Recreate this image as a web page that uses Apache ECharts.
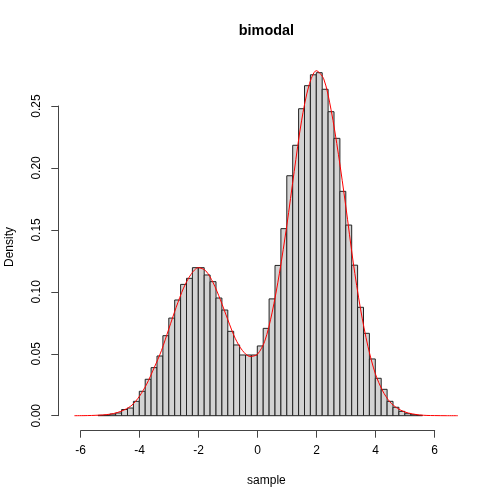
<!DOCTYPE html>
<html><head><meta charset="utf-8">
<script src="https://cdn.jsdelivr.net/npm/echarts@6/dist/echarts.min.js"></script>
<style>html,body{margin:0;padding:0;background:#fff}#c{width:504px;height:504px}</style>
</head><body><div id="c"></div>
<script>
const chartTitle = 'bimodal';
const xName = 'sample';
const yName = 'Density';
const binEdges = [-5.4,-5.2,-5.0,-4.8,-4.6,-4.4,-4.2,-4.0,-3.8,-3.6,-3.4,-3.2,-3.0,-2.8,-2.6,-2.4,-2.2,-2.0,-1.8,-1.6,-1.4,-1.2,-1.0,-0.8,-0.6,-0.4,-0.2,0.0,0.2,0.4,0.6,0.8,1.0,1.2,1.4,1.6,1.8,2.0,2.2,2.4,2.6,2.8,3.0,3.2,3.4,3.6,3.8,4.0,4.2,4.4,4.6,4.8,5.0,5.2,5.4,5.6];
const binDensity = [0.0003,0.0004,0.0013,0.0022,0.0050,0.0062,0.0116,0.0197,0.0294,0.0388,0.0482,0.0646,0.0788,0.0934,0.1060,0.1109,0.1195,0.1195,0.1136,0.1082,0.0950,0.0853,0.0681,0.0571,0.0490,0.0490,0.0490,0.0563,0.0705,0.0943,0.1213,0.1510,0.1937,0.2183,0.2478,0.2664,0.2752,0.2769,0.2635,0.2454,0.2239,0.1811,0.1539,0.1215,0.0875,0.0665,0.0458,0.0302,0.0213,0.0116,0.0068,0.0035,0.0016,0.0008,0.0003];
const curveX = [-6.2,-5.75,-5.5,-5.25,-5.0,-4.75,-4.5,-4.25,-4.0,-3.75,-3.5,-3.25,-3.0,-2.75,-2.5,-2.25,-2.0,-1.75,-1.5,-1.25,-1.0,-0.75,-0.5,-0.25,0.0,0.25,0.5,0.75,1.0,1.25,1.5,1.75,2.0,2.25,2.5,2.75,3.0,3.25,3.5,3.75,4.0,4.25,4.5,4.75,5.0,5.25,5.5,5.75,6.0,6.4,6.8];
const curveY = [0.0000,0.0001,0.0003,0.0006,0.0012,0.0025,0.0048,0.0085,0.0155,0.0255,0.0385,0.0525,0.0700,0.0875,0.1030,0.1140,0.1195,0.1170,0.1075,0.0935,0.0775,0.0625,0.0525,0.0478,0.0495,0.0600,0.0830,0.1150,0.1535,0.1970,0.2380,0.2665,0.2785,0.2720,0.2470,0.2110,0.1690,0.1240,0.0860,0.0560,0.0340,0.0200,0.0110,0.0060,0.0030,0.0015,0.0006,0.0002,0.0001,0.0000,0.0000];
const xTicks = {min: -6, max: 6, step: 2};
const yTicks = {min: 0, max: 0.25, step: 0.05};

const FONT = '"Liberation Sans", Arial, Helvetica, sans-serif';
const bars = binDensity.map((d, i) => [binEdges[i], binEdges[i + 1], d]);
const curve = curveX.map((x, i) => [x, curveY[i]]);

const chart = echarts.init(document.getElementById('c'), null, {renderer: 'canvas'});
chart.setOption({
  animation: false,
  backgroundColor: '#fff',
  grid: [
    {left: 65.55, right: 40.2, top: 44.06, bottom: 88.3},
    {left: 80.7, right: 69.3, top: 100, bottom: 73.3},
    {left: 58.3, width: 100, top: 106, bottom: 88.3}
  ],
  xAxis: [
    {gridIndex: 0, type: 'value', min: -6.5, max: 7.0, show: false},
    {gridIndex: 1, type: 'value', min: xTicks.min, max: xTicks.max, interval: xTicks.step,
     axisLine: {show: true, lineStyle: {color: '#444', width: 1}},
     axisTick: {show: true, length: 7, lineStyle: {color: '#444'}},
     axisLabel: {margin: 14, fontSize: 12, color: '#000', fontFamily: FONT},
     splitLine: {show: false}},
    {gridIndex: 2, type: 'value', min: 0, max: 1, show: false}
  ],
  yAxis: [
    {gridIndex: 0, type: 'value', min: 0, max: 0.3, show: false},
    {gridIndex: 1, type: 'value', min: 0, max: 1, show: false},
    {gridIndex: 2, type: 'value', min: yTicks.min, max: yTicks.max, interval: yTicks.step,
     axisLine: {show: true, lineStyle: {color: '#444', width: 1}},
     axisTick: {show: true, length: 7, lineStyle: {color: '#444'}},
     axisLabel: {margin: 16, rotate: 90, fontSize: 12, color: '#000', fontFamily: FONT,
                 formatter: v => v.toFixed(2)},
     splitLine: {show: false}}
  ],
  series: [
    {type: 'custom', xAxisIndex: 0, yAxisIndex: 0, data: bars, clip: false,
     encode: {x: [0, 1], y: 2},
     renderItem: function (params, api) {
       const p0 = api.coord([api.value(0), api.value(2)]);
       const p1 = api.coord([api.value(1), 0]);
       return {type: 'rect', shape: {x: p0[0], y: p0[1], width: p1[0] - p0[0], height: p1[1] - p0[1]},
               style: {fill: '#D3D3D3', stroke: '#222', lineWidth: 1}};
     }, z: 2},
    {type: 'line', xAxisIndex: 0, yAxisIndex: 0, data: curve, showSymbol: false, smooth: 0.3, clip: false,
     lineStyle: {color: '#FF0000', width: 1}, z: 3}
  ],
  graphic: [
    {type: 'text', x: 266.4, y: 31, style: {text: chartTitle, font: 'bold 14.4px ' + FONT, fill: '#000', textAlign: 'center', textVerticalAlign: 'middle'}},
    {type: 'text', x: 266.4, y: 481, style: {text: xName, font: '12px ' + FONT, fill: '#000', textAlign: 'center', textVerticalAlign: 'middle'}},
    {type: 'text', x: 10, y: 247, rotation: Math.PI / 2, style: {text: yName, font: '12px ' + FONT, fill: '#000', textAlign: 'center', textVerticalAlign: 'middle'}}
  ]
});
</script>
</body></html>
